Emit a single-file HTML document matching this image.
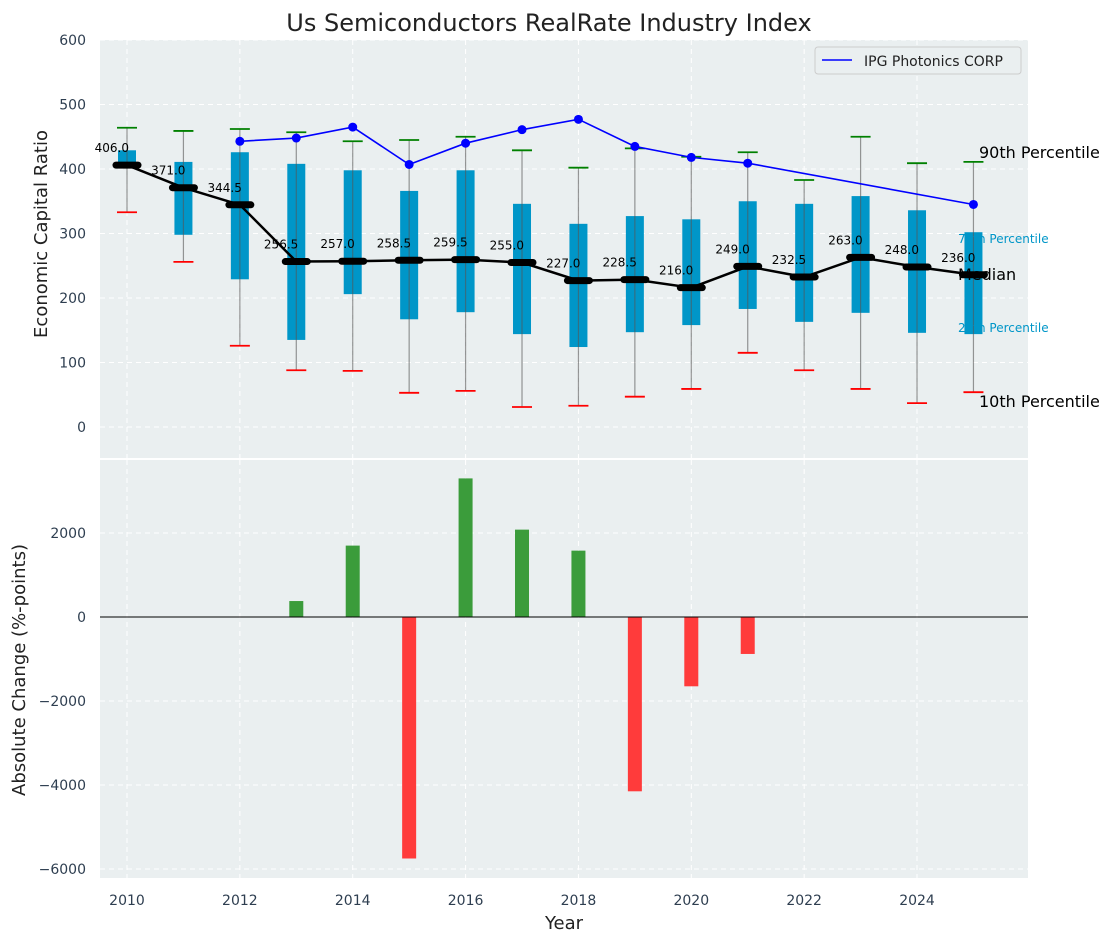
<!DOCTYPE html>
<html><head><meta charset="utf-8"><style>
body{margin:0;background:#fff;}
svg{font-family:"DejaVu Sans","Liberation Sans",sans-serif;}
</style></head><body>
<svg id="c" width="1114" height="942"></svg>
<script>
const years=[2010,2011,2012,2013,2014,2015,2016,2017,2018,2019,2020,2021,2022,2023,2024,2025];
const medians=[406.0,371.0,344.5,256.5,257.0,258.5,259.5,255.0,227.0,228.5,216.0,249.0,232.5,263.0,248.0,236.0];
const q75=[429,411,426,408,398,366,398,346,315,327,322,350,346,358,336,302];
const q25=[404,298,229,135,206,167,178,144,124,147,158,183,163,177,146,144];
const p90=[464,459,462,457,443,445,450,429,402,432,419,426,383,450,409,411];
const p10=[333,256,126,88,87,53,56,31,33,47,59,115,88,59,37,54];
const ipgYears=[2012,2013,2014,2015,2016,2017,2018,2019,2020,2021,2025];
const ipgVals=[443,448,465,407,440,461,477,435,418,409,345];
const chgYears=[2013,2014,2015,2016,2017,2018,2019,2020,2021];
const chgVals=[380,1700,-5750,3300,2080,1580,-4150,-1650,-880];
const topTicks=[0,100,200,300,400,500,600];
const botTicks=[-6000,-4000,-2000,0,2000];
const xTicks=[2010,2012,2014,2016,2018,2020,2022,2024];

const NS="http://www.w3.org/2000/svg";
const svg=document.getElementById('c');
function el(t,a,p){const e=document.createElementNS(NS,t);for(const k in a)e.setAttribute(k,a[k]);(p||svg).appendChild(e);return e;}
function txt(s,a,p){const e=el('text',a,p);e.textContent=s;return e;}
const X=y=>127+(y-2010)*56.43;
const Y1=v=>427-v*0.645;
const Y2=v=>617-v*0.042;
const L=100,R=1028;

let e=el('rect',{x:L,y:40,width:R-L,height:418,fill:'#eaeff0'});

e=el('rect',{x:L,y:460,width:R-L,height:418,fill:'#eaeff0'});


xTicks.forEach(t=>{
  el('line',{x1:X(t),x2:X(t),y1:40,y2:458,stroke:'#fff','stroke-dasharray':'5,4','stroke-width':1});
  el('line',{x1:X(t),x2:X(t),y1:460,y2:878,stroke:'#fff','stroke-dasharray':'5,4','stroke-width':1});
  const t1=txt(t,{x:X(t),y:905,'text-anchor':'middle','font-size':14,fill:'#2e3e50'});
  
});
topTicks.forEach(t=>{
  el('line',{x1:L,x2:R,y1:Y1(t),y2:Y1(t),stroke:'#fff','stroke-dasharray':'5,4','stroke-width':1});
  const t1=txt(t,{x:86,y:Y1(t)+5,'text-anchor':'end','font-size':14,fill:'#2e3e50'});
  
});
botTicks.forEach(t=>{
  el('line',{x1:L,x2:R,y1:Y2(t),y2:Y2(t),stroke:'#fff','stroke-dasharray':'5,4','stroke-width':1});
  const t1=txt(t<0?'\u2212'+(-t):t,{x:86,y:Y2(t)+5,'text-anchor':'end','font-size':14,fill:'#2e3e50'});
  
});

years.forEach((y,i)=>{
  const x=X(y);
  const b=el('rect',{x:x-9,y:Y1(q75[i]),width:18,height:Y1(q25[i])-Y1(q75[i]),fill:'#0096c8'});
  
  el('line',{x1:x,x2:x,y1:Y1(p90[i]),y2:Y1(p10[i]),stroke:'#555','stroke-opacity':0.6,'stroke-width':1.2});
  el('line',{x1:x-10,x2:x+10,y1:Y1(p90[i]),y2:Y1(p90[i]),stroke:'green','stroke-width':1.8});
  el('line',{x1:x-10,x2:x+10,y1:Y1(p10[i]),y2:Y1(p10[i]),stroke:'red','stroke-width':1.8});
});
const mp=el('polyline',{points:years.map((y,i)=>X(y)+','+Y1(medians[i])).join(' '),fill:'none',stroke:'#000','stroke-width':2.5});

years.forEach((y,i)=>{
  const m=el('line',{x1:X(y)-11,x2:X(y)+11,y1:Y1(medians[i]),y2:Y1(medians[i]),stroke:'#000','stroke-width':7,'stroke-linecap':'round'});
  
  const t=txt(medians[i].toFixed(1),{x:X(y)+2,y:Y1(medians[i])-13,'text-anchor':'end','font-size':12,fill:'#000'});
  
});
const ip=el('polyline',{points:ipgYears.map((y,i)=>X(y)+','+Y1(ipgVals[i])).join(' '),fill:'none',stroke:'#0000ff','stroke-width':1.6});

ipgYears.forEach((y,i)=>{
  const c=el('circle',{cx:X(y),cy:Y1(ipgVals[i]),r:4.5,fill:'#0000ff'});
  
});
[['90th Percentile',979,158,16,'#000'],['75th Percentile',958,243,12,'#0096c8'],['Median',958,280,16,'#000'],['25th Percentile',958,332,12,'#0096c8'],['10th Percentile',979,407,16,'#000']].forEach(a=>{
  const t=txt(a[0],{x:a[1],y:a[2],'font-size':a[3],fill:a[4]});
  
});
const lg=el('g',{});

el('rect',{x:815,y:47,width:206,height:27,fill:'#eaeff0',stroke:'#ccc',rx:3},lg);
el('line',{x1:822,x2:852,y1:60,y2:60,stroke:'#0000ff','stroke-width':1.6},lg);
txt('IPG Photonics CORP',{x:864,y:66,'font-size':14,fill:'#222'},lg);

chgYears.forEach((y,i)=>{
  const v=chgVals[i];
  const r=el('rect',{x:X(y)-7,y:Math.min(Y2(v),Y2(0)),width:14,height:Math.abs(Y2(v)-Y2(0)),fill:v>=0?'#3b9c3b':'#ff3b3b'});
  
});
el('line',{x1:L,x2:R,y1:Y2(0),y2:Y2(0),stroke:'#000','stroke-width':1});

let t=txt('Us Semiconductors RealRate Industry Index',{x:549,y:31,'text-anchor':'middle','font-size':24,fill:'#222'});

t=txt('Economic Capital Ratio',{x:0,y:0,'text-anchor':'middle','font-size':18,fill:'#222',transform:'translate(47,234) rotate(-90)'});

t=txt('Absolute Change (%-points)',{x:0,y:0,'text-anchor':'middle','font-size':18,fill:'#222',transform:'translate(25,670) rotate(-90)'});

t=txt('Year',{x:564,y:929,'text-anchor':'middle','font-size':18,fill:'#222'});

</script>
</body></html>
